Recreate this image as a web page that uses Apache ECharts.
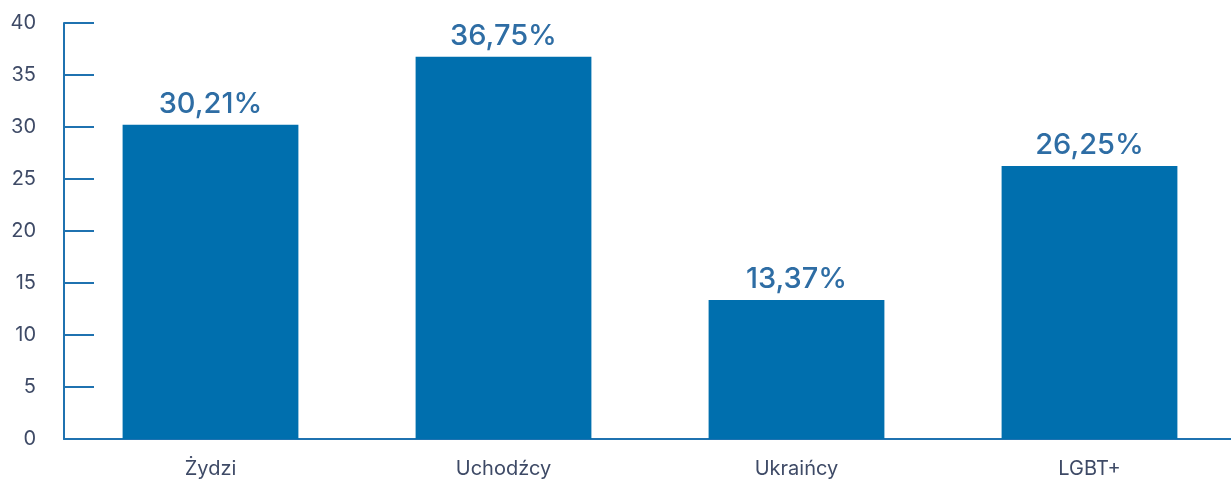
<!DOCTYPE html>
<html>
<head>
<meta charset="utf-8">
<script src="https://cdn.jsdelivr.net/npm/echarts@6/dist/echarts.min.js"></script>
<style>
  html, body { margin: 0; padding: 0; background: #fff; overflow: hidden; }
  #chart { width: 1240px; height: 479px; }
</style>
</head>
<body>
<div id="chart"></div>
<script>
// share of respondents per group (%)
const categories = ['Żydzi', 'Uchodźcy', 'Ukraińcy', 'LGBT+']
const values = [30.21, 36.75, 13.37, 26.25]
const yTicks = [0, 5, 10, 15, 20, 25, 30, 35, 40]

const BLUE = '#006fae'
const AXIS = '#1f72b0'
const TEXT = '#3e4a66'
const FONT = 'Inter, "Noto Sans", sans-serif'

// the plot runs a little past the right edge of the frame, as in the source
const chart = echarts.init(document.getElementById('chart'))
chart.setOption({
  animation: false,
  grid: { left: 64, right: 4, top: 23, bottom: 39, containLabel: false },
  xAxis: {
    type: 'category',
    data: categories,
    axisLine: { lineStyle: { color: AXIS, width: 2 } },
    axisTick: { show: false },
    axisLabel: { color: TEXT, fontSize: 20, fontFamily: FONT, margin: 20 },
  },
  yAxis: {
    type: 'value',
    min: yTicks[0],
    max: yTicks[yTicks.length - 1],
    interval: 5,
    axisLine: { show: true, lineStyle: { color: AXIS, width: 2 } },
    axisTick: { show: true, inside: true, length: 30, lineStyle: { color: AXIS, width: 2 } },
    splitLine: { show: false },
    axisLabel: { color: TEXT, fontSize: 20, fontFamily: FONT, margin: 28 },
  },
  series: [{
    type: 'bar',
    data: values,
    barWidth: '60%',
    itemStyle: { color: BLUE },
    label: {
      show: true,
      position: 'top',
      distance: 6,
      color: '#2e6da4',
      fontSize: 29,
      fontWeight: 500,
      fontFamily: FONT,
      formatter: p => p.value.toFixed(2).replace('.', ',') + '%',
    },
  }],
})
</script>
</body>
</html>
